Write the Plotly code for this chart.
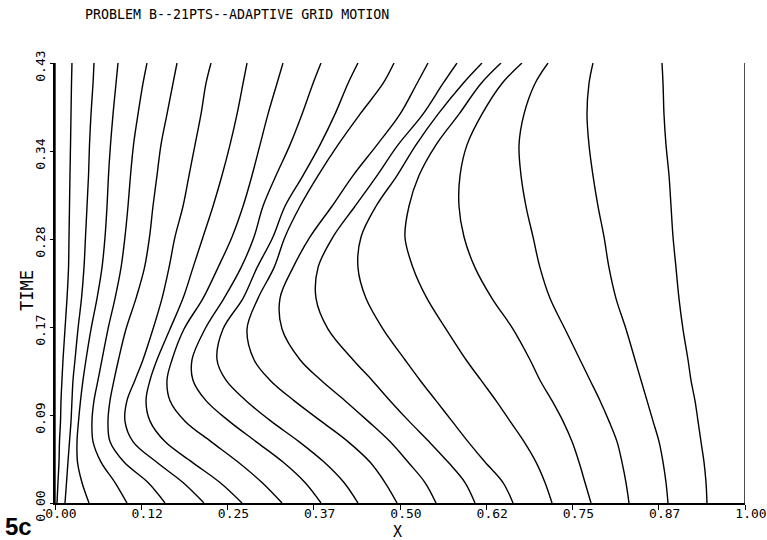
import plotly.graph_objects as go

# Time levels at which each grid point's position is tabulated
time_levels = [0.00, 0.02, 0.04, 0.06, 0.08, 0.10, 0.12, 0.14, 0.17, 0.20,
               0.23, 0.26, 0.29, 0.32, 0.35, 0.38, 0.41, 0.43]

# Position of each of the 21 grid points at the time levels above
pt00 = [0.0] * 18
pt01 = [0.0029, 0.0043, 0.0058, 0.0065, 0.0080, 0.0087, 0.0101, 0.0116, 0.0145, 0.0174,
        0.0196, 0.0203, 0.0210, 0.0217, 0.0225, 0.0232, 0.0239, 0.0246]
pt02 = [0.0145, 0.0167, 0.0188, 0.0210, 0.0232, 0.0246, 0.0261, 0.0290, 0.0333, 0.0384,
        0.0420, 0.0442, 0.0464, 0.0486, 0.0500, 0.0522, 0.0551, 0.0565]
pt03 = [0.0493, 0.0391, 0.0326, 0.0319, 0.0341, 0.0370, 0.0406, 0.0449, 0.0522, 0.0609,
        0.0681, 0.0725, 0.0754, 0.0775, 0.0804, 0.0841, 0.0884, 0.0913]
pt04 = [0.1043, 0.0870, 0.0667, 0.0551, 0.0536, 0.0565, 0.0623, 0.0681, 0.0768, 0.0870,
        0.0957, 0.1014, 0.1058, 0.1094, 0.1138, 0.1203, 0.1275, 0.1333]
pt05 = [0.1594, 0.1348, 0.1000, 0.0797, 0.0768, 0.0797, 0.0855, 0.0920, 0.1029, 0.1174,
        0.1297, 0.1370, 0.1420, 0.1478, 0.1536, 0.1623, 0.1710, 0.1768]
pt06 = [0.2159, 0.1855, 0.1471, 0.1130, 0.1014, 0.1043, 0.1159, 0.1275, 0.1420, 0.1551,
        0.1652, 0.1739, 0.1855, 0.1942, 0.2029, 0.2116, 0.2188, 0.2261]
pt07 = [0.2710, 0.2391, 0.1986, 0.1594, 0.1377, 0.1319, 0.1377, 0.1478, 0.1667, 0.1855,
        0.2000, 0.2145, 0.2290, 0.2420, 0.2536, 0.2638, 0.2725, 0.2783]
pt08 = [0.3290, 0.3000, 0.2652, 0.2261, 0.1884, 0.1667, 0.1623, 0.1696, 0.1870, 0.2145,
        0.2362, 0.2565, 0.2725, 0.2855, 0.2971, 0.3087, 0.3217, 0.3304]
pt09 = [0.3855, 0.3623, 0.3304, 0.2913, 0.2522, 0.2188, 0.2000, 0.1986, 0.2174, 0.2449,
        0.2696, 0.2884, 0.3014, 0.3203, 0.3406, 0.3580, 0.3739, 0.3855]
pt10 = [0.4391, 0.4188, 0.3899, 0.3536, 0.3130, 0.2768, 0.2478, 0.2348, 0.2435, 0.2725,
        0.2928, 0.3159, 0.3333, 0.3594, 0.3841, 0.4058, 0.4246, 0.4391]
pt11 = [0.4957, 0.4783, 0.4565, 0.4246, 0.3855, 0.3464, 0.3116, 0.2884, 0.2783, 0.2942,
        0.3174, 0.3333, 0.3551, 0.3812, 0.4101, 0.4420, 0.4754, 0.4913]
pt12 = [0.5522, 0.5362, 0.5116, 0.4855, 0.4536, 0.4203, 0.3855, 0.3551, 0.3290, 0.3261,
        0.3449, 0.3696, 0.4014, 0.4319, 0.4667, 0.5000, 0.5246, 0.5406]
pt13 = [0.6087, 0.5942, 0.5696, 0.5420, 0.5130, 0.4855, 0.4594, 0.4319, 0.3957, 0.3783,
        0.3812, 0.4029, 0.4348, 0.4667, 0.4971, 0.5333, 0.5623, 0.5826]
pt14 = [0.6638, 0.6493, 0.6232, 0.5986, 0.5754, 0.5522, 0.5290, 0.5072, 0.4754, 0.4507,
        0.4391, 0.4435, 0.4652, 0.4957, 0.5232, 0.5551, 0.5913, 0.6188]
pt15 = [0.7203, 0.7101, 0.6971, 0.6797, 0.6594, 0.6391, 0.6174, 0.5957, 0.5667, 0.5391,
        0.5188, 0.5072, 0.5130, 0.5275, 0.5522, 0.5855, 0.6174, 0.6464]
pt16 = [0.7768, 0.7681, 0.7594, 0.7493, 0.7362, 0.7203, 0.7029, 0.6884, 0.6638, 0.6333,
        0.6087, 0.5928, 0.5855, 0.5870, 0.5971, 0.6188, 0.6478, 0.6768]
pt17 = [0.8319, 0.8275, 0.8217, 0.8145, 0.8029, 0.7899, 0.7754, 0.7609, 0.7391, 0.7174,
        0.7029, 0.6928, 0.6826, 0.6754, 0.6725, 0.6797, 0.6957, 0.7145]
pt18 = [0.8884, 0.8855, 0.8812, 0.8754, 0.8667, 0.8580, 0.8493, 0.8406, 0.8275, 0.8130,
        0.8029, 0.7957, 0.7870, 0.7797, 0.7739, 0.7710, 0.7739, 0.7797]
pt19 = [0.9449, 0.9435, 0.9406, 0.9362, 0.9319, 0.9275, 0.9217, 0.9174, 0.9101, 0.9043,
        0.9000, 0.8957, 0.8928, 0.8899, 0.8855, 0.8826, 0.8812, 0.8797]
pt20 = [1.0] * 18

grid_paths = [pt00, pt01, pt02, pt03, pt04, pt05, pt06, pt07, pt08, pt09, pt10,
              pt11, pt12, pt13, pt14, pt15, pt16, pt17, pt18, pt19, pt20]

# Axis ticks
x_tick_vals = [0.0, 0.125, 0.25, 0.375, 0.5, 0.625, 0.75, 0.875, 1.0]
x_tick_text = ["0.00", "0.12", "0.25", "0.37", "0.50", "0.62", "0.75", "0.87", "1.00"]
t_tick_vals = [0.0, 0.086, 0.172, 0.258, 0.344, 0.43]
t_tick_text = ["0.00", "0.09", "0.17", "0.28", "0.34", "0.43"]

MONO = "DejaVu Sans Mono"

fig = go.Figure()
for path in grid_paths:
    fig.add_trace(go.Scatter(
        x=path, y=time_levels, mode="lines",
        line=dict(color="black", width=1.4, shape="spline", smoothing=1.0),
        hoverinfo="skip",
    ))

fig.update_layout(
    width=767, height=540,
    margin=dict(l=55, r=22, t=63, b=37, autoexpand=False),
    paper_bgcolor="white", plot_bgcolor="white",
    showlegend=False,
    xaxis=dict(
        range=[0, 1], showgrid=False, zeroline=False, automargin=False,
        showline=True, linecolor="black", linewidth=1.6,
        ticks="outside", ticklen=5, tickwidth=1.2, tickcolor="black",
        tickvals=x_tick_vals, ticktext=x_tick_text,
        tickfont=dict(family=MONO, size=13, color="black"),
        ticklabelshift=6, ticklabelstandoff=-7,
    ),
    yaxis=dict(
        range=[0, 0.43], showgrid=False, zeroline=False, automargin=False,
        showline=True, linecolor="black", linewidth=1.6,
        ticks="outside", ticklen=3, tickwidth=1.2, tickcolor="black",
        tickvals=t_tick_vals, ticktext=t_tick_text, tickangle=-90,
        tickfont=dict(family=MONO, size=13, color="black"),
        ticklabelshift=5,
    ),
    annotations=[
        dict(text="PROBLEM B--21PTS--ADAPTIVE GRID MOTION", xref="paper", yref="paper",
             x=0.0406, y=1.111, xanchor="left", yanchor="middle", showarrow=False,
             font=dict(family=MONO, size=13.3, color="black")),
        dict(text="TIME", xref="paper", yref="paper", x=-0.0406, y=0.484,
             xanchor="center", yanchor="middle", textangle=-90, showarrow=False,
             font=dict(family=MONO, size=17, color="black")),
        dict(text="X", xref="paper", yref="paper", x=0.4957, y=-0.067,
             xanchor="center", yanchor="middle", showarrow=False,
             font=dict(family=MONO, size=15, color="black")),
        dict(text="<b>5c</b>", xref="paper", yref="paper", x=-0.0522, y=-0.0545,
             xanchor="center", yanchor="middle", showarrow=False,
             font=dict(family="Liberation Sans", size=24, color="black")),
    ],
)

fig.write_html("out.html")
